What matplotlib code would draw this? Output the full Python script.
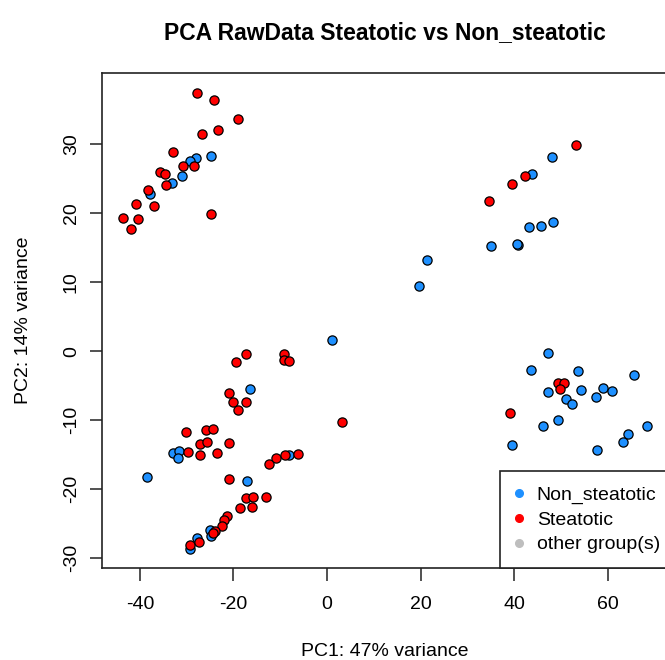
import matplotlib
matplotlib.use("Agg")
import matplotlib.pyplot as plt
from matplotlib.lines import Line2D

plt.rcParams['font.family'] = ['Liberation Sans', 'DejaVu Sans']
plt.rcParams['axes.unicode_minus'] = False

title = "PCA RawData Steatotic vs Non_steatotic"
xlabel = "PC1: 47% variance"
ylabel = "PC2: 14% variance"
groups = ["Non_steatotic", "Steatotic", "other group(s)"]
group_colors = ["#1E90FF", "#FF0000", "#BEBEBE"]
xticks = [-40, -20, 0, 20, 40, 60]
yticks = [-30, -20, -10, 0, 10, 20, 30]

non_x = [-24.8, -28.0, -29.3, -31.0, -33.2, -37.9,
         1.0, -16.5,
         -32.9, -31.7, -31.9, -38.4, -17.2, -8.2,
         -25.0, -24.8, -27.7, -29.2,
         48.1, 43.9, 48.3, 45.8, 43.1, 40.9, 40.6, 35.0, 21.3, 19.6,
         47.2, 43.7, 53.7, 65.6, 47.2, 54.4, 59.0, 61.0, 57.5, 51.1,
         52.3, 49.4, 46.1, 68.4, 64.3, 63.2, 39.6, 57.7]
non_y = [28.3, 28.0, 27.5, 25.4, 24.3, 22.8,
         1.6, -5.5,
         -14.7, -14.4, -15.5, -18.2, -18.8, -15.1,
         -25.9, -26.7, -27.0, -28.7,
         28.2, 25.7, 18.7, 18.1, 18.0, 15.4, 15.5, 15.2, 13.2, 9.4,
         -0.3, -2.7, -2.8, -3.4, -5.9, -5.6, -5.3, -5.7, -6.6, -6.9,
         -7.7, -10.0, -10.9, -10.8, -12.0, -13.1, -13.6, -14.3]

ste_x = [-27.7, -24.1, -19.0, -23.4, -26.7, -33.0, -28.5, -30.7, -35.7, -34.7,
         -34.4, -38.2, -40.8, -36.9, -43.6, -40.4, -41.8, -24.8,
         -17.3, -19.5, -9.1, -9.1, -8.1, -21.0, -20.0, -17.3, -19.0,
         -30.2, -25.8, -24.4, -27.1, -25.7, -21.0, -29.7, -27.2, -23.6,
         -21.0, -12.5, -10.8, -8.9, -6.2, 3.3,
         -17.3, -15.8, -13.1, -16.0, -18.7, -21.4, -22.0, -22.5, -23.9, -24.4,
         -29.2, -27.4,
         53.2, 42.4, 39.6, 34.6,
         49.4, 50.6, 49.8, 39.1]
ste_y = [37.4, 36.4, 33.6, 32.1, 31.4, 28.9, 26.9, 26.8, 25.9, 25.7,
         24.1, 23.3, 21.3, 21.1, 19.3, 19.1, 17.7, 19.9,
         -0.4, -1.6, -0.4, -1.2, -1.4, -6.1, -7.4, -7.4, -8.5,
         -11.7, -11.4, -11.3, -13.4, -13.1, -13.3, -14.6, -15.0, -14.7,
         -18.5, -16.4, -15.5, -15.1, -14.9, -10.2,
         -21.3, -21.1, -21.1, -22.6, -22.7, -23.9, -24.5, -25.3, -26.1, -26.3,
         -28.1, -27.7,
         29.8, 25.4, 24.2, 21.7,
         -4.6, -4.6, -5.5, -8.9]

W, H = 665, 660
fig = plt.figure(figsize=(W / 100, H / 100), dpi=100)
ax = fig.add_axes([102 / W, (H - 568) / H, 566 / W, 495 / H])

ax.scatter(non_x, non_y, s=44, c=group_colors[0], edgecolors="black",
           linewidths=0.9, zorder=3)
ax.scatter(ste_x, ste_y, s=44, c=group_colors[1], edgecolors="black",
           linewidths=0.9, zorder=3)

ax.set_xlim(-48.1, 72.9)
ax.set_ylim(-31.4, 40.3)
ax.set_xticks(xticks)
ax.set_yticks(yticks)
ax.tick_params(axis="both", direction="out", length=9, width=1.1,
               labelsize=14, color="#222222")
ax.tick_params(axis="x", pad=11)
ax.tick_params(axis="y", pad=7)
for lab in ax.get_yticklabels():
    lab.set_rotation(90)
    lab.set_va("center")
for sp in ax.spines.values():
    sp.set_linewidth(1.2)
    sp.set_color("#222222")

fig.text(24 / W, 1 - 320 / H, ylabel, rotation=90, ha="center", va="center",
         fontsize=14)
fig.text(385 / W, 1 - 651 / H, xlabel, ha="center", va="center", fontsize=14)
fig.text(385 / W, 1 - 39 / H, title, ha="center", va="baseline",
         fontsize=16.5, fontweight="bold")

handles = [Line2D([0], [0], marker="o", linestyle="none", markersize=5.5,
                  markerfacecolor=c, markeredgecolor=c) for c in group_colors]
leg = ax.legend(handles, groups, loc="lower right",
                bbox_to_anchor=(1 + 6.5 / 566, 0),
                borderaxespad=0, fontsize=14, frameon=True, fancybox=False,
                framealpha=1, edgecolor="#222222", handlelength=0.45,
                handletextpad=0.7, labelspacing=0.37, borderpad=0.75)
leg.get_frame().set_linewidth(1.2)

fig.savefig("out.png", dpi=100)
